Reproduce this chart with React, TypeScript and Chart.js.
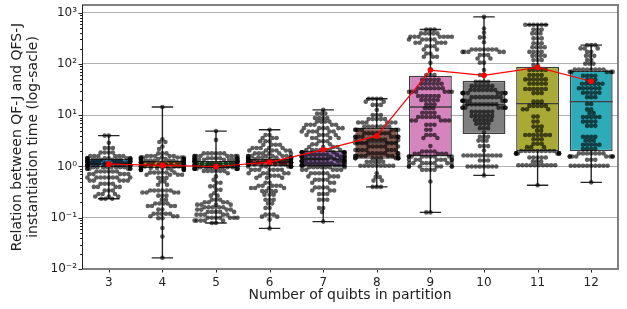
import React, { useEffect, useRef } from 'react';
import { Chart, registerables } from 'chart.js';

Chart.register(...registerables);

// ---------- data ----------
const categories = ['3', '4', '5', '6', '7', '8', '9', '10', '11', '12'];

const boxQ1 = [0.97, 0.93, 0.92, 1.02, 1.0, 1.41, 1.57, 4.3, 2.0, 2.0];
const boxMedian = [1.12, 1.05, 1.02, 1.2, 1.4, 2.9, 14.5, 16, 16.8, 18.4];
const boxQ3 = [1.42, 1.3, 1.28, 1.4, 2.05, 5.7, 59, 47, 88, 74];
const whiskerLow = [0.235, 0.0165, 0.079, 0.062, 0.084, 0.4, 0.127, 0.67, 0.43, 0.49];
const whiskerHigh = [4.0, 14.5, 4.9, 5.2, 12.7, 21, 471, 828, 580, 233];
const means = [1.11, 1.05, 1.0, 1.22, 2.11, 3.95, 76, 60, 86, 46];

const boxColors = ['#3274a1', '#e1812c', '#3a923a', '#c03d3e', '#9372b2', '#845b53', '#d684bd', '#7f7f7f', '#a9aa35', '#2eabb8'];

// samples as [value, how many observations at that value]
const samples3: [number, number][] = [
  [4.0, 2], [2.9, 1], [2.3, 3], [1.87, 4], [1.6, 6],
  [1.45, 8], [1.35, 8], [1.25, 8], [1.15, 9], [1.05, 8], [0.97, 8],
  [0.9, 6], [0.8, 6], [0.71, 5], [0.61, 8], [0.53, 5], [0.46, 4], [0.4, 4], [0.34, 3], [0.29, 3], [0.26, 3], [0.235, 3],
];
const samples4: [number, number][] = [
  [14.5, 1], [3.4, 1], [3.0, 2], [2.45, 1], [2.2, 1], [1.8, 3], [1.6, 5],
  [1.5, 7], [1.4, 8], [1.3, 8], [1.2, 8], [1.1, 8], [1.0, 8], [0.93, 8], [0.86, 8],
  [0.76, 6], [0.69, 4], [0.6, 3], [0.51, 2], [0.44, 2], [0.34, 6], [0.31, 4], [0.27, 3], [0.225, 2],
  [0.19, 4], [0.17, 4], [0.144, 2], [0.12, 5], [0.107, 3], [0.098, 2], [0.063, 1], [0.043, 1], [0.0165, 1],
];
const samples5: [number, number][] = [
  [4.9, 1], [3.3, 1], [1.8, 6], [1.6, 8],
  [1.45, 8], [1.35, 8], [1.25, 8], [1.15, 9], [1.05, 8], [0.97, 8], [0.9, 8], [0.82, 6],
  [0.74, 1], [0.64, 1], [0.55, 1], [0.48, 2], [0.41, 2], [0.35, 2], [0.3, 1], [0.27, 2], [0.225, 3], [0.2, 4],
  [0.18, 4], [0.16, 5], [0.144, 4], [0.13, 5], [0.115, 5], [0.1, 7], [0.088, 5], [0.079, 2],
];
const samples6: [number, number][] = [
  [5.2, 1], [4.1, 2], [3.6, 3], [3.1, 3], [2.65, 4], [2.3, 5], [2.05, 6], [1.8, 6], [1.6, 7],
  [1.5, 8], [1.4, 8], [1.3, 8], [1.2, 9], [1.1, 8], [1.0, 8],
  [0.86, 7], [0.74, 5], [0.66, 4], [0.6, 3], [0.48, 2], [0.42, 5], [0.38, 4], [0.33, 4], [0.28, 3],
  [0.225, 3], [0.19, 2], [0.155, 2], [0.115, 3], [0.105, 2], [0.092, 1], [0.062, 1],
];
const samples7: [number, number][] = [
  [12.7, 1], [10.8, 3], [8.8, 4], [7.5, 4], [6.5, 5], [5.6, 6], [4.8, 6], [4.1, 5], [3.6, 4], [3.1, 3], [2.7, 3], [2.4, 4],
  [2.1, 7], [1.9, 8], [1.7, 8], [1.55, 8], [1.4, 8], [1.28, 8], [1.15, 8], [1.05, 8], [0.97, 7],
  [0.86, 5], [0.74, 5], [0.64, 4], [0.55, 4], [0.48, 3], [0.39, 4], [0.34, 3], [0.29, 3], [0.225, 3], [0.155, 2], [0.13, 1], [0.084, 1],
];
const samples8: [number, number][] = [
  [21, 4], [18.4, 2], [15.9, 3], [12.7, 1], [10.1, 3], [8.4, 5], [7.2, 6], [6.0, 7],
  [5.2, 7], [4.45, 7], [3.8, 8], [3.3, 7], [2.85, 7], [2.45, 6], [2.1, 7], [1.8, 7], [1.6, 8],
  [1.45, 9], [1.23, 5], [1.03, 9],
  [0.74, 1], [0.62, 2], [0.53, 2], [0.4, 3],
];
const samples9: [number, number][] = [
  [471, 3], [395, 5], [340, 7], [300, 5], [260, 5], [222, 3], [192, 2], [160, 2], [138, 3], [105, 1], [78, 1],
  [61, 3], [49, 5], [41, 6], [33.5, 7], [28.6, 6], [23.7, 6], [19.8, 5], [16.3, 3], [13.7, 3], [11.2, 4],
  [9.2, 6], [7.9, 5], [6.5, 3], [5.2, 2], [4.1, 3], [3.6, 2], [2.5, 1], [1.96, 4], [1.77, 5],
  [1.57, 9], [1.35, 8], [1.16, 8], [1.0, 7], [0.86, 4], [0.51, 1], [0.127, 2],
];
const samples10: [number, number][] = [
  [828, 1], [490, 1], [405, 1], [330, 2], [265, 1], [192, 7], [172, 5], [149, 3], [128, 2], [106, 2], [76, 1], [61, 2],
  [45, 4], [37, 6], [31, 7], [27, 8], [22.5, 8], [19.2, 8], [16.3, 8], [14, 7], [11.7, 6], [9.7, 6], [8.1, 5], [6.8, 4], [5.6, 3],
  [4.6, 1], [3.8, 3], [3.2, 3], [2.5, 3], [2.05, 1], [1.64, 10], [1.31, 3], [1.0, 8], [0.67, 1],
];
const samples11: [number, number][] = [
  [580, 6], [471, 3], [395, 3], [315, 3], [253, 3], [212, 4], [172, 4], [144, 4], [119, 3], [95, 2],
  [76, 5], [61, 4], [50, 6], [41, 5], [32.5, 6], [27, 3], [18.4, 3], [15.2, 5], [13.1, 3], [9.4, 2], [7.5, 2],
  [6, 3], [5, 2], [4.1, 7], [3.4, 3], [2.77, 3], [2.38, 3],
  [2.0, 9], [1.8, 8], [1.5, 5], [1.25, 3], [1.06, 10], [0.43, 1],
];
const samples12: [number, number][] = [
  [233, 3], [201, 3], [172, 2], [144, 3], [119, 2], [101, 3], [78, 8], [70, 5],
  [59, 4], [49, 3], [41, 6], [33.5, 6], [27.5, 5], [22.5, 3], [16.5, 2], [13, 2], [11, 2], [9.2, 5], [7.5, 4], [6.2, 3],
  [3.8, 4], [3.2, 3], [2.65, 5], [2.2, 4], [1.8, 7], [1.57, 8], [1.35, 3], [1.03, 10], [0.49, 1],
];
const allSamples = [samples3, samples4, samples5, samples6, samples7, samples8, samples9, samples10, samples11, samples12];

const yTickValues = [0.01, 0.1, 1, 10, 100, 1000];
const yTickLabels = ['10⁻²', '10⁻¹', '10⁰', '10¹', '10²', '10³'];
const yMin = 0.01;
const yMax = 1413;

const FONT = 'DejaVu Sans';

// ---------- helpers ----------
function expand(pairs: [number, number][]): number[] {
  const out: number[] = [];
  for (const [v, c] of pairs) for (let k = 0; k < c; k++) out.push(v);
  return out;
}

// beeswarm placement (pixel space); returns x offsets
function swarmOffsets(ys: number[], d: number): number[] {
  const order = ys.map((_, i) => i).sort((a, b) => ys[a] - ys[b]);
  const placed: { x: number; y: number }[] = [];
  const out = new Array(ys.length).fill(0);
  for (const i of order) {
    const y = ys[i];
    const near: { x: number; y: number }[] = [];
    for (let k = placed.length - 1; k >= 0; k--) {
      if (Math.abs(placed[k].y - y) < d) near.push(placed[k]);
      else if (y - placed[k].y >= d) break;
    }
    const cands = [0];
    for (const p of near) {
      const dx = Math.sqrt(Math.max(0, d * d - (p.y - y) * (p.y - y)));
      cands.push(p.x + dx, p.x - dx);
    }
    cands.sort((a, b) => Math.abs(a) - Math.abs(b) || a - b);
    let best = cands[0];
    for (const c of cands) {
      let ok = true;
      for (const p of near) {
        if ((p.x - c) * (p.x - c) + (p.y - y) * (p.y - y) < d * d - 0.01) { ok = false; break; }
      }
      if (ok) { best = c; break; }
    }
    placed.push({ x: best, y });
    out[i] = best;
  }
  return out;
}

const boxSwarmPlugin = {
  id: 'boxSwarm',
  afterDatasetDraw(chart: any, args: any) {
    if (args.index !== 0) return;
    const ctx = chart.ctx as CanvasRenderingContext2D;
    const xs = chart.scales.x;
    const ys = chart.scales.y;
    const step = xs.getPixelForValue(1) - xs.getPixelForValue(0);
    const boxHalf = step * 0.4;
    const capHalf = step * 0.2;
    ctx.save();
    categories.forEach((_, i) => {
      const cx = xs.getPixelForValue(i);
      ctx.strokeStyle = '#262626';
      ctx.lineWidth = 1.4;
      ctx.beginPath();
      ctx.moveTo(cx, ys.getPixelForValue(boxQ3[i]));
      ctx.lineTo(cx, ys.getPixelForValue(whiskerHigh[i]));
      ctx.moveTo(cx, ys.getPixelForValue(boxQ1[i]));
      ctx.lineTo(cx, ys.getPixelForValue(whiskerLow[i]));
      ctx.moveTo(cx - capHalf, ys.getPixelForValue(whiskerHigh[i]));
      ctx.lineTo(cx + capHalf, ys.getPixelForValue(whiskerHigh[i]));
      ctx.moveTo(cx - capHalf, ys.getPixelForValue(whiskerLow[i]));
      ctx.lineTo(cx + capHalf, ys.getPixelForValue(whiskerLow[i]));
      ctx.stroke();
      ctx.strokeStyle = '#3f3f3f';
      ctx.lineWidth = 1.4;
      ctx.beginPath();
      ctx.moveTo(cx - boxHalf, ys.getPixelForValue(boxMedian[i]));
      ctx.lineTo(cx + boxHalf, ys.getPixelForValue(boxMedian[i]));
      ctx.stroke();
    });
    const d = 4.1;
    ctx.fillStyle = 'rgba(0,0,0,0.63)';
    categories.forEach((_, i) => {
      const cx = xs.getPixelForValue(i);
      const vals = expand(allSamples[i]);
      const py = vals.map((v) => ys.getPixelForValue(v));
      const off = swarmOffsets(py, d);
      for (let k = 0; k < vals.length; k++) {
        let ox = off[k];
        if (ox > boxHalf) ox = boxHalf;
        if (ox < -boxHalf) ox = -boxHalf;
        ctx.beginPath();
        ctx.arc(cx + ox, py[k], 2.3, 0, Math.PI * 2);
        ctx.fill();
      }
    });
    ctx.restore();
  },
  afterDraw(chart: any) {
    const ctx = chart.ctx as CanvasRenderingContext2D;
    const a = chart.chartArea;
    const ys = chart.scales.y;
    const xs = chart.scales.x;
    ctx.save();
    ctx.strokeStyle = '#222';
    ctx.lineWidth = 1;
    ctx.beginPath();
    for (const v of yTickValues) {
      const y = Math.round(ys.getPixelForValue(v)) + 0.5;
      ctx.moveTo(a.left - 3.5, y);
      ctx.lineTo(a.left, y);
    }
    for (let e = -2; e <= 3; e++) {
      for (let m = 2; m <= 9; m++) {
        const v = m * Math.pow(10, e);
        if (v > yMax) continue;
        const y = Math.round(ys.getPixelForValue(v)) + 0.5;
        ctx.moveTo(a.left - 2, y);
        ctx.lineTo(a.left, y);
      }
    }
    categories.forEach((_, i) => {
      const x = Math.round(xs.getPixelForValue(i)) + 0.5;
      ctx.moveTo(x, a.bottom);
      ctx.lineTo(x, a.bottom + 3.5);
    });
    ctx.stroke();
    ctx.strokeStyle = '#808080';
    ctx.lineWidth = 2;
    ctx.beginPath();
    ctx.moveTo(a.left, a.top);
    ctx.lineTo(a.right, a.top);
    ctx.lineTo(a.right, a.bottom);
    ctx.lineTo(a.left, a.bottom);
    ctx.stroke();
    ctx.strokeStyle = '#222';
    ctx.lineWidth = 1;
    ctx.beginPath();
    ctx.moveTo(a.left + 0.5, a.top);
    ctx.lineTo(a.left + 0.5, a.bottom);
    ctx.stroke();
    ctx.restore();
  },
};

export default function App() {
  const ref = useRef<HTMLCanvasElement>(null);
  useEffect(() => {
    const chart = new Chart(ref.current as HTMLCanvasElement, {
      type: 'bar',
      data: {
        labels: categories,
        datasets: [
          {
            type: 'bar',
            data: categories.map((_, i) => [boxQ1[i], boxQ3[i]]) as any,
            backgroundColor: boxColors,
            borderColor: '#3f3f3f',
            borderWidth: 1.4,
            borderSkipped: false,
            barPercentage: 0.8,
            categoryPercentage: 1.0,
            order: 2,
          },
          {
            type: 'line',
            data: means,
            borderColor: '#ff0000',
            borderWidth: 1.2,
            pointRadius: 2.8,
            pointBackgroundColor: '#ff0000',
            pointBorderWidth: 0,
            order: 1,
          } as any,
        ],
      },
      options: {
        responsive: false,
        devicePixelRatio: 1,
        animation: false,
        layout: { padding: { top: 5, right: 9, bottom: 0, left: 0 } },
        plugins: { legend: { display: false }, tooltip: { enabled: false } },
        scales: {
          x: {
            type: 'category',
            offset: true,
            grid: { display: false, drawTicks: false },
            border: { display: false },
            ticks: { color: '#222', font: { family: FONT, size: 12 }, padding: 7, autoSkip: false, maxRotation: 0 },
            title: {
              display: true,
              text: 'Number of quibts in partition',
              color: '#222',
              font: { family: FONT, size: 14 },
              padding: { top: 0, bottom: 5 },
            },
            afterFit: (s: any) => {
              s.height = 40;
              s.paddingLeft = 0;
              s.paddingRight = 0;
            },
          },
          y: {
            type: 'logarithmic',
            min: yMin,
            max: yMax,
            bounds: 'data',
            grid: { color: '#b0b0b0', lineWidth: 1, drawTicks: false },
            border: { display: false },
            afterBuildTicks: (s: any) => {
              s.ticks = yTickValues.map((v) => ({ value: v, major: true }));
            },
            ticks: {
              color: '#222',
              font: { family: FONT, size: 12 },
              padding: 5,
              autoSkip: false,
              callback: (v: any) => {
                const i = yTickValues.indexOf(Number(v));
                return i >= 0 ? yTickLabels[i] : '';
              },
            },
            title: {
              display: true,
              text: ['Relation between QF-J and QFS-J', 'instantiation time (log-sacle)'],
              color: '#222',
              font: { family: FONT, size: 14, lineHeight: 1.1 },
              padding: { top: 10, bottom: 0 },
            },
            afterFit: (s: any) => {
              s.width = 82;
              s.paddingTop = 0;
              s.paddingBottom = 0;
            },
          },
        },
      },
      plugins: [boxSwarmPlugin],
    } as any);
    return () => chart.destroy();
  }, []);
  return (
    <div style={{ position: 'fixed', left: 0, top: 0, width: 627, height: 309, background: '#fff' }}>
      <canvas ref={ref} width={627} height={309} style={{ display: 'block', width: 627, height: 309 }} />
    </div>
  );
}
